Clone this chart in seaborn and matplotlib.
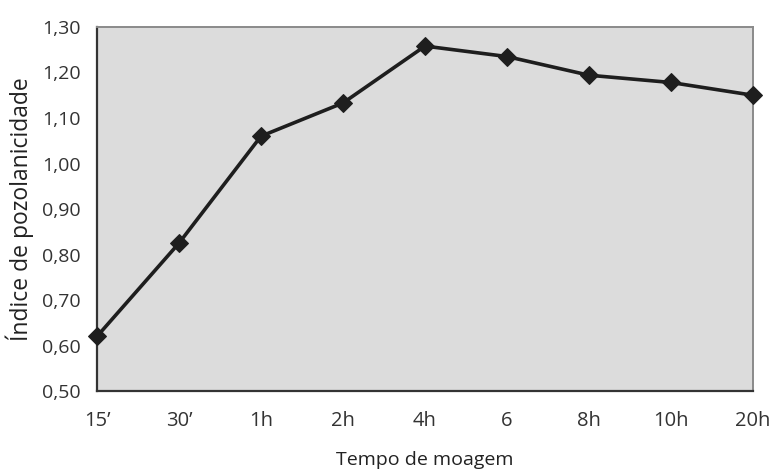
import matplotlib
matplotlib.use("Agg")
import matplotlib.pyplot as plt
import seaborn as sns
import pandas as pd

categories = ["15\u2019", "30\u2019", "1h", "2h", "4h", "6", "8h", "10h", "20h"]
values = [0.62, 0.825, 1.06, 1.133, 1.258, 1.235, 1.194, 1.178, 1.150]
yticks = [0.50, 0.60, 0.70, 0.80, 0.90, 1.00, 1.10, 1.20, 1.30]

sns.set_theme(style="white")
plt.rcParams["font.family"] = ["Open Sans", "DejaVu Sans"]

df = pd.DataFrame({"tempo": categories, "indice": values})

fig = plt.figure(figsize=(7.74, 4.70), dpi=100)
ax = fig.add_axes([0.1253, 0.168, 0.8476, 0.7746])
ax.set_facecolor("#dcdcdc")

sns.lineplot(data=df, x="tempo", y="indice", sort=False, ax=ax,
             color="#1e1e1e", linewidth=2.6, marker="D", markersize=9.5,
             markeredgecolor="#1e1e1e", markerfacecolor="#1e1e1e")
for ln in ax.lines:
    ln.set_clip_on(False)
    ln.set_zorder(5)

ax.set_xlim(0, len(categories) - 1)
ax.set_ylim(0.50, 1.30)
ax.set_xticks(range(len(categories)))
ax.set_xticklabels(categories)
ax.set_yticks(yticks)
ax.set_yticklabels([f"{v:.2f}".replace(".", ",") for v in yticks])

for s in ["left", "bottom"]:
    ax.spines[s].set_color("#333333")
    ax.spines[s].set_linewidth(1.6)
for s in ["top", "right"]:
    ax.spines[s].set_color("#8a8a8a")
    ax.spines[s].set_linewidth(1.4)

ax.tick_params(axis="x", which="major", direction="inout", length=11,
               width=1.3, color="#333333", labelsize=14.5, labelcolor="#333333", pad=9)
ax.tick_params(axis="y", which="major", direction="inout", length=9,
               width=1.3, color="#333333", labelsize=14, labelcolor="#333333", pad=7)

ax.set_xlabel("Tempo de moagem", fontsize=14, color="#222222", labelpad=14)
ax.set_ylabel("\u00cdndice de pozolanicidade", fontsize=16.5, color="#222222", labelpad=6)

fig.savefig("out.png", dpi=100)
